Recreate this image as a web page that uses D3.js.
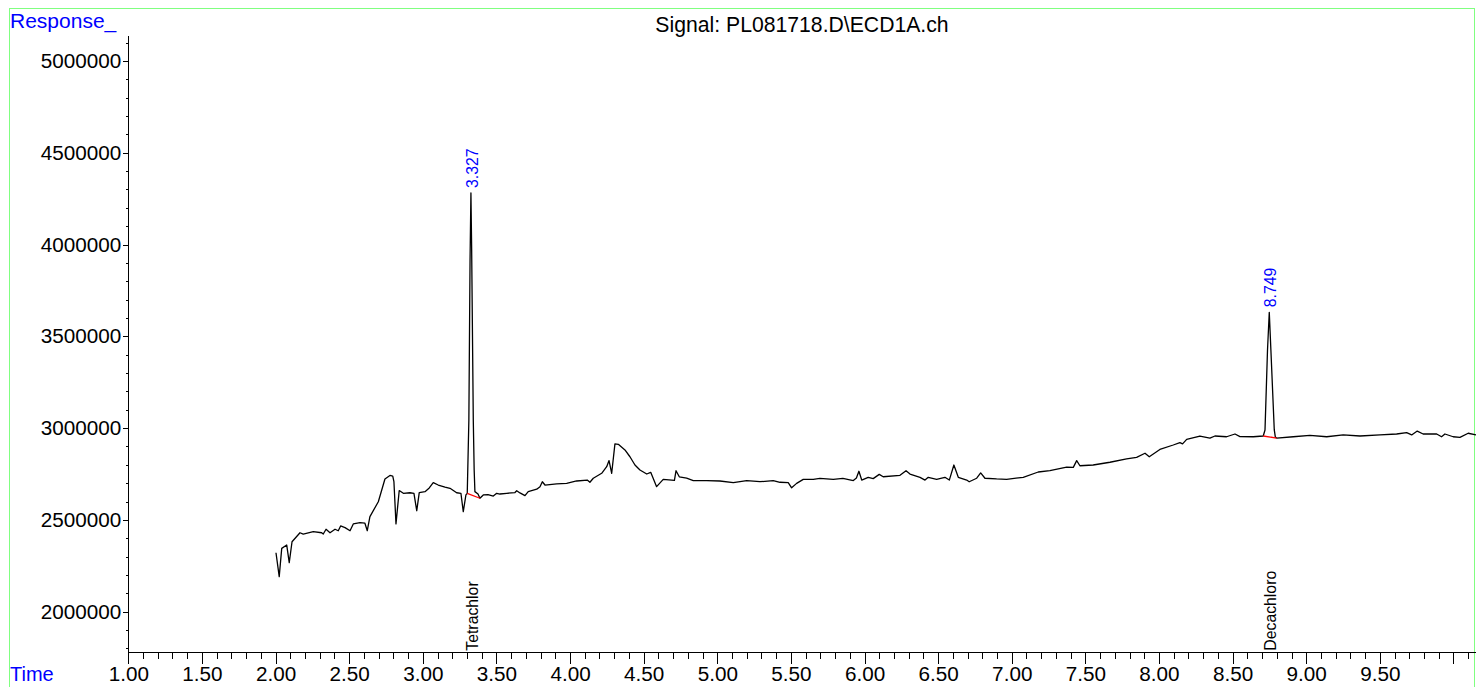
<!DOCTYPE html>
<html>
<head>
<meta charset="utf-8">
<script src="https://cdn.jsdelivr.net/npm/d3@7/dist/d3.min.js"></script>
<style>
  body { margin: 0; background: #fff; }
  text { font-family: "Liberation Sans", Arial, sans-serif; }
</style>
</head>
<body>
<div id="chart"></div>
<script>
// retention time (min), detector response
var trace = [
  [2.003, 2321000], [2.025, 2191000], [2.042, 2345000], [2.076, 2363000], [2.093, 2267000],
  [2.112, 2381000], [2.166, 2430000], [2.188, 2423000], [2.256, 2436000], [2.313, 2430000],
  [2.324, 2423000], [2.343, 2449000], [2.370, 2430000], [2.404, 2449000], [2.426, 2441000],
  [2.442, 2467000], [2.472, 2458000], [2.506, 2441000], [2.528, 2478000], [2.574, 2485000],
  [2.607, 2482000], [2.623, 2441000], [2.641, 2518000], [2.698, 2599000], [2.743, 2723000],
  [2.777, 2742000], [2.796, 2739000], [2.804, 2708000], [2.818, 2478000], [2.840, 2660000],
  [2.868, 2645000], [2.913, 2648000], [2.940, 2645000], [2.959, 2550000], [2.976, 2649000],
  [3.015, 2654000], [3.044, 2674000], [3.071, 2703000], [3.105, 2690000], [3.151, 2678000],
  [3.185, 2672000], [3.230, 2648000], [3.259, 2645000], [3.275, 2545000], [3.293, 2636000],
  [3.302, 2645000], [3.313, 3044000], [3.321, 3916000], [3.327, 4281000], [3.332, 3970000],
  [3.343, 3044000], [3.349, 2772000], [3.354, 2654000], [3.375, 2641000], [3.388, 2618000],
  [3.411, 2636000], [3.443, 2638000], [3.479, 2630000], [3.502, 2645000], [3.524, 2641000],
  [3.570, 2645000], [3.626, 2649000], [3.638, 2659000], [3.660, 2647000], [3.694, 2632000],
  [3.716, 2654000], [3.774, 2667000], [3.796, 2681000], [3.812, 2708000], [3.830, 2690000],
  [3.909, 2696000], [3.977, 2699000], [4.045, 2712000], [4.117, 2717000], [4.135, 2705000],
  [4.158, 2727000], [4.215, 2754000], [4.249, 2790000], [4.265, 2823000], [4.283, 2754000],
  [4.305, 2914000], [4.328, 2912000], [4.373, 2881000], [4.407, 2844000], [4.441, 2799000],
  [4.475, 2772000], [4.521, 2750000], [4.548, 2759000], [4.588, 2681000], [4.633, 2721000],
  [4.690, 2717000], [4.709, 2715000], [4.720, 2768000], [4.742, 2735000], [4.792, 2727000],
  [4.837, 2714000], [4.928, 2714000], [5.018, 2712000], [5.109, 2703000], [5.200, 2714000],
  [5.290, 2708000], [5.380, 2714000], [5.426, 2705000], [5.482, 2703000], [5.505, 2675000],
  [5.539, 2699000], [5.584, 2721000], [5.652, 2721000], [5.697, 2726000], [5.788, 2721000],
  [5.853, 2726000], [5.924, 2714000], [5.945, 2728000], [5.962, 2765000], [5.981, 2717000],
  [6.025, 2732000], [6.059, 2725000], [6.100, 2748000], [6.127, 2735000], [6.241, 2743000],
  [6.282, 2768000], [6.309, 2750000], [6.377, 2732000], [6.411, 2717000], [6.433, 2732000],
  [6.490, 2721000], [6.546, 2732000], [6.576, 2717000], [6.607, 2799000], [6.637, 2732000],
  [6.694, 2717000], [6.711, 2708000], [6.762, 2727000], [6.789, 2756000], [6.818, 2727000],
  [6.897, 2723000], [6.965, 2721000], [7.078, 2732000], [7.180, 2761000], [7.259, 2768000],
  [7.373, 2787000], [7.418, 2786000], [7.441, 2823000], [7.463, 2795000], [7.553, 2799000],
  [7.667, 2814000], [7.780, 2832000], [7.848, 2841000], [7.905, 2863000], [7.934, 2844000],
  [8.006, 2884000], [8.097, 2908000], [8.142, 2921000], [8.160, 2914000], [8.188, 2939000],
  [8.278, 2957000], [8.346, 2946000], [8.380, 2957000], [8.459, 2953000], [8.516, 2968000],
  [8.550, 2954000], [8.640, 2953000], [8.708, 2957000], [8.720, 2990000], [8.737, 3426000],
  [8.749, 3631000], [8.760, 3426000], [8.783, 2990000], [8.790, 2952000], [8.799, 2946000],
  [8.912, 2953000], [9.025, 2961000], [9.139, 2953000], [9.251, 2963000], [9.365, 2957000],
  [9.501, 2963000], [9.614, 2968000], [9.682, 2975000], [9.716, 2963000], [9.754, 2984000],
  [9.794, 2968000], [9.886, 2968000], [9.919, 2953000], [9.942, 2968000], [9.998, 2953000],
  [10.044, 2950000], [10.100, 2972000], [10.153, 2963000]
];

// integrated peaks
var peakTimes = [3.327, 8.749];
var peakApex = [4281000, 3631000];
var peakNames = ["Tetrachlor", "Decachloro"];
// drawn baseline under each peak: [start, end]
var peakBaselines = [
  [[3.302, 2645000], [3.388, 2618000]],
  [[8.708, 2957000], [8.799, 2946000]]
];

var xMajorTicks = [1.0, 1.5, 2.0, 2.5, 3.0, 3.5, 4.0, 4.5, 5.0, 5.5, 6.0, 6.5, 7.0, 7.5, 8.0, 8.5, 9.0, 9.5, 10.0];
var xTickLabels = ["1.00", "1.50", "2.00", "2.50", "3.00", "3.50", "4.00", "4.50", "5.00", "5.50",
                   "6.00", "6.50", "7.00", "7.50", "8.00", "8.50", "9.00", "9.50", ""];
var yMajorTicks = [2000000, 2500000, 3000000, 3500000, 4000000, 4500000, 5000000];

var titleText = "Signal: PL081718.D\\ECD1A.ch";

function drawChart(targetDiv) {
  var width = 1476, height = 687;
  var left = 128.3, bottom = 651.7, top = 35;

  var svg = d3.select(targetDiv).append("svg")
              .attr("width", width)
              .attr("height", height);

  // frame
  svg.append("rect")
     .attr("x", 9.5).attr("y", 8.5)
     .attr("width", 1465).attr("height", 700)
     .attr("fill", "none")
     .attr("stroke", "#80ff80");

  var x = d3.scaleLinear().domain([1, 10.153]).range([left, width]);
  var y = d3.scaleLinear().domain([1782000, 5141600]).range([bottom, top]);

  // x axis, minor then major
  var xMinor = d3.range(10, 102).map(function(d) { return d / 10; });
  svg.append("g")
     .attr("transform", "translate(0," + bottom + ")")
     .call(d3.axisBottom(x).tickValues(xMinor).tickSize(7).tickSizeOuter(0).tickFormat(""));
  svg.append("g")
     .attr("class", "xmajor")
     .attr("transform", "translate(0," + bottom + ")")
     .call(d3.axisBottom(x).tickValues(xMajorTicks).tickSize(12).tickSizeOuter(0).tickPadding(3)
             .tickFormat(function(d, i) { return xTickLabels[i]; }));

  // y axis
  var yMinor = d3.range(18, 52).map(function(d) { return d * 100000; });
  svg.append("g")
     .attr("transform", "translate(" + left + ",0)")
     .call(d3.axisLeft(y).tickValues(yMinor).tickSize(2).tickSizeOuter(0).tickFormat(""));
  svg.append("g")
     .attr("class", "ymajor")
     .attr("transform", "translate(" + left + ",0)")
     .call(d3.axisLeft(y).tickValues(yMajorTicks).tickSize(5).tickSizeOuter(0).tickPadding(2)
             .tickFormat(d3.format("d")));

  svg.selectAll(".domain, .tick line").attr("stroke", "#000").attr("shape-rendering", "crispEdges");
  svg.selectAll(".xmajor text, .ymajor text")
     .attr("fill", "#000")
     .style("font-size", "20.7px")
     .style("font-family", "'Liberation Sans', Arial, sans-serif");

  // signal trace
  var line = d3.line()
               .x(function(d) { return x(d[0]); })
               .y(function(d) { return y(d[1]); });
  svg.append("path")
     .datum(trace)
     .attr("d", line)
     .attr("fill", "none")
     .attr("stroke", "#000")
     .attr("stroke-width", 1.3)
     .attr("stroke-linejoin", "round");

  // peak baselines in red
  svg.selectAll(".base").data(peakBaselines).enter().append("path")
     .attr("class", "base")
     .attr("d", line)
     .attr("fill", "none")
     .attr("stroke", "#ff0000")
     .attr("stroke-width", 1.3);

  // retention time labels above apex
  svg.selectAll(".rt").data(peakTimes).enter().append("text")
     .attr("class", "rt")
     .attr("transform", function(d, i) {
       return "translate(" + (x(d) + 7) + "," + (y(peakApex[i]) - 5) + ") rotate(-90)";
     })
     .attr("fill", "#0000ff")
     .style("font-size", "15.8px")
     .text(function(d) { return d.toFixed(3); });

  // compound names along the bottom
  svg.selectAll(".cname").data(peakTimes).enter().append("text")
     .attr("class", "cname")
     .attr("transform", function(d) {
       return "translate(" + (x(d) + 7) + "," + (bottom - 1) + ") rotate(-90)";
     })
     .attr("fill", "#000")
     .style("font-size", "15.8px")
     .text(function(d, i) { return peakNames[i]; });

  svg.append("text")
     .attr("x", 802).attr("y", 31.5)
     .attr("text-anchor", "middle")
     .attr("fill", "#000")
     .style("font-size", "21.2px")
     .text(titleText);

  svg.append("text")
     .attr("x", 10).attr("y", 27.5)
     .attr("fill", "#0000ff")
     .style("font-size", "21px")
     .text("Response_");

  // axis caption sits right at the bottom edge, like the original print
  svg.append("text")
     .attr("x", 10).attr("y", 681)
     .attr("fill", "#0000ff")
     .style("font-size", "20px")
     .text("Time");
}

drawChart("#chart");
</script>
</body>
</html>
